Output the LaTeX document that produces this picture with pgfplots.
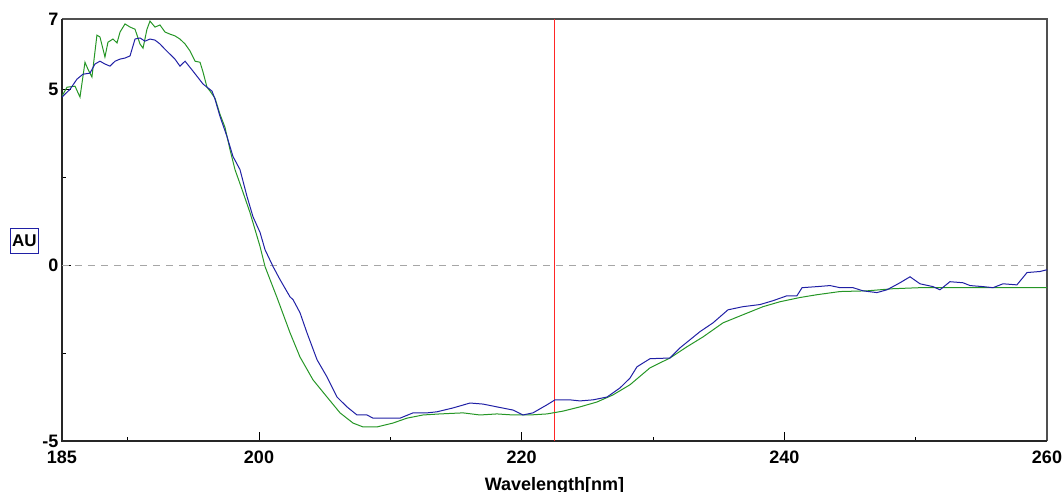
\documentclass[border=0pt]{standalone}
\usepackage{fontspec}
\setmainfont{Liberation Sans}
\usepackage{pgfplots}
\pgfplotsset{compat=1.18}
\definecolor{cdblue}{RGB}{32,32,165}
\definecolor{cdgreen}{RGB}{38,150,38}
\definecolor{frame}{RGB}{80,80,80}
\newcommand{\lblfont}{\bfseries\fontsize{18}{20}\selectfont}
\begin{document}
\begin{tikzpicture}
\useasboundingbox (0,0) rectangle (1063pt,491pt);
\begin{axis}[
    at={(62pt,50pt)}, anchor=south west,
    width=985pt, height=422pt, scale only axis,
    xmin=185, xmax=260, ymin=-5, ymax=7,
    axis line style={draw=none},
    clip mode=individual,
    tick pos=left,
    xtick={185,200,220,240,260}, xticklabels={185,200,220,240,260},
    minor xtick={190,210,230,250},
    ytick={-5,0,5,7}, yticklabels={-5,0,5,7},
    minor ytick={-2.5,2.5},
    major tick length=9pt, minor tick length=4pt,
    every tick/.style={black, line width=1pt},
    tick label style={font=\lblfont},
    xticklabel style={yshift=-6pt},
    xlabel={Wavelength[nm]},
    xlabel style={font=\lblfont, at={(axis description cs:0.5,0)}, anchor=north, yshift=-33pt},
]
\draw[frame, line width=1.3pt] (rel axis cs:0,1) -- (rel axis cs:1,1) -- (rel axis cs:1,0);
\draw[black!85, line width=1.3pt] (rel axis cs:0,1) -- (rel axis cs:0,0) -- (rel axis cs:1,0);
\addplot[gray!70, dash pattern=on 7pt off 6pt, line width=0.9pt] coordinates {(185,0) (260,0)};
\addplot[red!85!white, line width=1.3pt] coordinates {(222.5,-5) (222.5,7)};
% green trace
\addplot[cdgreen, line width=1pt] coordinates {
(185.00,4.81) (185.38,5.06) (185.99,5.09) (186.37,4.78) (186.75,5.77) (186.98,5.57)
(187.28,5.35) (187.66,6.54) (187.89,6.49) (188.27,5.92) (188.50,6.34) (188.88,6.43)
(189.19,6.32) (189.42,6.63) (189.80,6.86) (190.18,6.77) (190.56,6.71) (190.94,6.29)
(191.17,6.17) (191.47,6.71) (191.70,6.94) (192.08,6.77) (192.46,6.83) (192.84,6.63)
(193.22,6.57) (193.60,6.52) (193.98,6.43) (194.37,6.29) (194.75,6.09) (195.13,5.80)
(195.51,5.77) (195.74,5.49) (196.04,5.06) (196.27,4.95) (196.65,4.75) (197.03,4.29)
(197.41,3.92) (197.79,3.29) (198.17,2.72) (198.71,2.15) (199.31,1.50) (199.70,1.01)
(200.08,0.53) (200.46,-0.04) (200.84,-0.41) (201.37,-0.92) (202.36,-1.92) (203.12,-2.61)
(204.11,-3.26) (205.18,-3.75) (206.17,-4.20) (207.16,-4.49) (207.92,-4.60) (208.98,-4.60)
(210.20,-4.49) (211.27,-4.35) (212.49,-4.26) (213.78,-4.23) (215.53,-4.20) (216.83,-4.26)
(218.12,-4.23) (219.34,-4.26) (220.63,-4.26) (221.93,-4.23) (223.15,-4.15) (224.44,-4.03)
(225.74,-3.89) (226.95,-3.69) (228.25,-3.40) (229.77,-2.92) (231.29,-2.64) (232.59,-2.32)
(233.81,-2.04) (235.33,-1.64) (236.85,-1.41) (238.38,-1.18) (239.67,-1.04) (241.19,-0.92)
(242.49,-0.84) (244.24,-0.75) (246.30,-0.73) (248.27,-0.67) (250.33,-0.64) (252.61,-0.64)
(255.13,-0.64) (257.71,-0.64) (260.00,-0.64)
};
% blue trace
\addplot[cdblue, line width=1pt] coordinates {
(185.00,4.78) (185.61,5.00) (186.14,5.29) (186.60,5.43) (187.13,5.46) (187.51,5.72)
(187.89,5.80) (188.27,5.72) (188.65,5.66) (189.04,5.80) (189.42,5.86) (189.80,5.89)
(190.18,5.95) (190.56,6.43) (190.94,6.46) (191.32,6.37) (191.70,6.43) (192.08,6.40)
(192.46,6.29) (192.84,6.14) (193.22,6.00) (193.60,5.86) (193.98,5.66) (194.37,5.80)
(194.97,5.52) (195.74,5.15) (196.42,4.95) (196.65,4.72) (197.03,4.23) (197.56,3.66)
(198.02,3.09) (198.55,2.72) (199.09,1.95) (199.54,1.38) (200.08,0.93) (200.46,0.44)
(201.07,-0.04) (201.60,-0.41) (202.36,-0.90) (202.59,-0.98) (203.12,-1.35) (203.65,-1.92)
(204.42,-2.69) (205.18,-3.18) (205.94,-3.75) (206.70,-4.03) (207.46,-4.26) (208.22,-4.26)
(208.68,-4.35) (209.97,-4.35) (210.74,-4.35) (211.73,-4.20) (212.79,-4.20) (213.55,-4.17)
(214.77,-4.06) (216.07,-3.92) (217.06,-3.95) (218.12,-4.03) (219.34,-4.12) (220.10,-4.26)
(220.86,-4.20) (221.93,-3.97) (222.54,-3.83) (223.68,-3.83) (224.44,-3.86) (225.43,-3.83)
(226.50,-3.75) (227.49,-3.49) (228.25,-3.21) (228.78,-2.89) (229.77,-2.66) (231.29,-2.64)
(232.06,-2.35) (233.58,-1.89) (234.57,-1.64) (235.71,-1.27) (236.85,-1.18) (238.15,-1.12)
(239.14,-1.01) (240.20,-0.87) (240.96,-0.87) (241.35,-0.64) (242.49,-0.61) (243.48,-0.58)
(244.24,-0.64) (245.23,-0.64) (245.99,-0.73) (247.05,-0.78) (247.82,-0.70) (248.81,-0.50)
(249.57,-0.33) (250.33,-0.53) (251.32,-0.61) (251.85,-0.70) (252.61,-0.47) (253.60,-0.50)
(254.14,-0.58) (255.13,-0.61) (255.89,-0.64) (256.65,-0.53) (257.71,-0.56) (258.48,-0.21)
(259.47,-0.18) (260.00,-0.13)
};
\end{axis}
\node[draw=cdblue, line width=1pt, inner sep=2pt, font=\bfseries\fontsize{17}{19}\selectfont,
      minimum width=27pt, minimum height=25pt] at (24.5pt,250.5pt) {AU};
\end{tikzpicture}
\end{document}
